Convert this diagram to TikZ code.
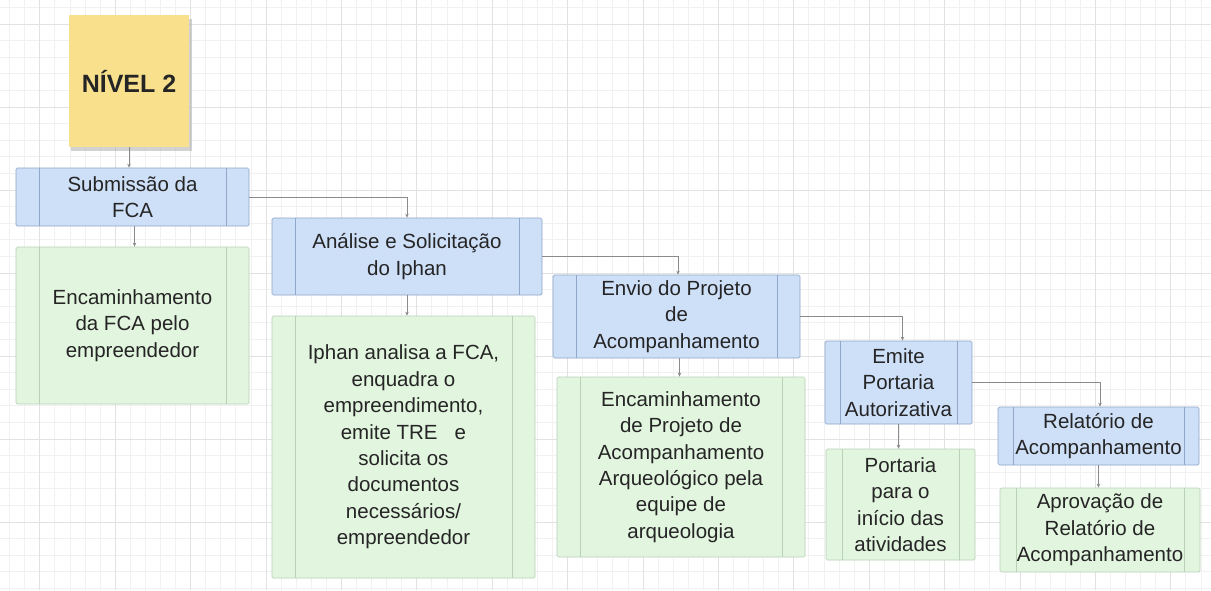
\documentclass[tikz,border=0pt]{standalone}
\usepackage{fontspec}
\setmainfont{Liberation Sans}
\usetikzlibrary{arrows.meta}
\definecolor{bluefill}{HTML}{CEDFF8}
\definecolor{blueline}{HTML}{8FA7C8}
\definecolor{greenfill}{HTML}{E2F5DF}
\definecolor{greenline}{HTML}{B9D2B6}
\definecolor{stickyfill}{HTML}{F8E08C}
\definecolor{txt}{HTML}{252525}
\definecolor{conn}{HTML}{8A8A8A}
\definecolor{gridminor}{HTML}{F1F1F1}
\definecolor{gridmajor}{HTML}{E2E2E2}
\tikzset{
  procbox/.style={draw, rounded corners=1.5pt, line width=0.7pt, inner sep=0pt,
    align=center, text=txt, font=\fontsize{20.5}{26.4}\selectfont,
    path picture={
      \draw[line width=0.7pt, draw=#1]
        ([xshift=\inneroff]path picture bounding box.north west) --
        ([xshift=\inneroff]path picture bounding box.south west)
        ([xshift=-\inneroff]path picture bounding box.north east) --
        ([xshift=-\inneroff]path picture bounding box.south east);}},
  bluebox/.style={procbox=blueline, draw=blueline, fill=bluefill},
  greenbox/.style={procbox=greenline, draw=greenline, fill=greenfill},
  connector/.style={draw=conn, line width=0.7pt, -{Stealth[length=4pt,width=3.5pt]}},
  minorline/.style={draw=gridminor, line width=0.8pt},
  majorline/.style={draw=gridmajor, line width=1pt}
}
\newcommand{\inneroff}{23pt}
\begin{document}
\begin{tikzpicture}[x=1pt,y=-1pt]
\useasboundingbox (0,0) rectangle (1211,590);
\fill[white] (0,0) rectangle (1211,590);
% grid
\foreach \i in {0,...,80} {\draw[minorline] ({9.64+15.08*\i},0) -- ({9.64+15.08*\i},590);}
\foreach \i in {0,...,36} {\draw[minorline] (0,{7.4+16.6*\i}) -- (1211,{7.4+16.6*\i});}
\foreach \i in {0,...,16} {\draw[majorline] ({39.8+75.4*\i},0) -- ({39.8+75.4*\i},590);}
\foreach \i in {0,...,7} {\draw[majorline] (0,{24+83*\i}) -- (1211,{24+83*\i});}
% sticky note
\fill[black!35, opacity=0.5] (71,19) rectangle (192,151);
\node[fill=stickyfill, minimum width=120pt, minimum height=132pt, inner sep=0pt,
  text=txt, font=\fontsize{25}{30}\selectfont\bfseries] (note) at (129,81) {NÍVEL 2};
% blue boxes
\node[bluebox, minimum width=233pt, minimum height=58pt] (b1) at (132.5,197) {Submissão da\\FCA};
\node[bluebox, minimum width=270pt, minimum height=77pt] (b2) at (407,256.5) {Análise e Solicitação\\do Iphan};
\node[bluebox, minimum width=247pt, minimum height=83pt] (b3) at (676.5,316.5) {Envio do Projeto\\de\\Acompanhamento};
\renewcommand{\inneroff}{15pt}
\node[bluebox, minimum width=147pt, minimum height=83pt] (b4) at (898.5,382.5) {Emite\\Portaria\\Autorizativa};
\node[bluebox, minimum width=201pt, minimum height=58pt] (b5) at (1098.5,436) {Relatório de\\Acompanhamento};
% green boxes
\renewcommand{\inneroff}{23pt}
\node[greenbox, minimum width=233pt, minimum height=157pt] (g1) at (132.5,325.5) {Encaminhamento\\da FCA pelo\\empreendedor};
\node[greenbox, minimum width=263pt, minimum height=262pt] (g2) at (403.5,447) {Iphan analisa a FCA,\\enquadra o\\empreendimento,\\emite TRE\ \ \ e\\solicita os\\documentos\\necessários/\\empreendedor};
\node[greenbox, minimum width=248pt, minimum height=180pt] (g3) at (681,467) {Encaminhamento\\de Projeto de\\Acompanhamento\\Arqueológico pela\\equipe de\\arqueologia};
\renewcommand{\inneroff}{16pt}
\node[greenbox, minimum width=149pt, minimum height=111pt] (g4) at (900.5,504.5) {Portaria\\para o\\início das\\atividades};
\node[greenbox, minimum width=200pt, minimum height=84pt] (g5) at (1100,530) {Aprovação de\\Relatório de\\Acompanhamento};
% connectors
\draw[connector] (note.south) -- (note.south |- b1.north);
\draw[connector] ([xshift=2pt]b1.south) -- ([xshift=2pt]b1.south |- g1.north);
\draw[connector] (b1.east) -| (b2.north);
\draw[connector] (b2.south) -- (b2.south |- g2.north);
\draw[connector] (b2.east) -| ([xshift=1.5pt]b3.north);
\draw[connector] ([xshift=3pt]b3.south) -- ([xshift=3pt]b3.south |- g3.north);
\draw[connector] (b3.east) -| ([xshift=4pt]b4.north);
\draw[connector] (b4.south) -- (b4.south |- g4.north);
\draw[connector] (b4.east) -| ([xshift=1.5pt]b5.north);
\draw[connector] (b5.south) -- (b5.south |- g5.north);
\end{tikzpicture}
\end{document}
